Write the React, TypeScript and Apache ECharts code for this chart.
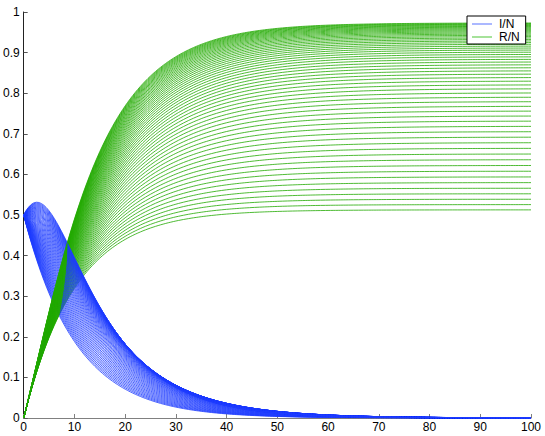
import React, { useEffect, useRef } from "react";
import * as echarts from "echarts";

// Tick labels
const xTicks = [0, 10, 20, 30, 40, 50, 60, 70, 80, 90, 100];
const yTicks = [0, 0.1, 0.2, 0.3, 0.4, 0.5, 0.6, 0.7, 0.8, 0.9, 1];

// Legend entries
const seriesNames = ["I/N", "R/N"];

// Initial state (fractions of N)
const initialInfected = 0.5;
const initialSusceptible = 0.5;
const initialRecovered = 0;

// Recovery rate read from the common initial slope of the R/N curves (~0.05 per unit time at I/N = 0.5)
const recoveryRate = 0.1;

// Contact ratios beta/gamma of the 60 curves, read from the spacing of the R/N plateaus at t = 100
// (plateaus from ~0.512 up to ~0.973)
const contactRatios = [
  0.05, 0.1, 0.15, 0.2, 0.25, 0.3, 0.35, 0.4, 0.45, 0.5,
  0.55, 0.6, 0.65, 0.7, 0.75, 0.8, 0.85, 0.9, 0.95, 1.0,
  1.05, 1.1, 1.15, 1.2, 1.25, 1.3, 1.35, 1.4, 1.45, 1.5,
  1.55, 1.6, 1.65, 1.7, 1.75, 1.8, 1.85, 1.9, 1.95, 2.0,
  2.05, 2.1, 2.15, 2.2, 2.25, 2.3, 2.35, 2.4, 2.45, 2.5,
  2.55, 2.6, 2.65, 2.7, 2.75, 2.8, 2.85, 2.9, 2.95, 3.0,
];

const timeEnd = 100;

const BLUE = "#1e3cff";
const GREEN = "#22aa00";

function simulate(ratio: number) {
  const gamma = recoveryRate;
  const beta = ratio * gamma;
  const dt = 0.05;
  const recordEvery = 10; // record every 0.5 time units
  let S = initialSusceptible;
  let I = initialInfected;
  let R = initialRecovered;
  const iPts: [number, number][] = [[0, I]];
  const rPts: [number, number][] = [[0, R]];
  const steps = Math.round(timeEnd / dt);
  const f = (s: number, i: number) => [-beta * s * i, beta * s * i - gamma * i, gamma * i];
  for (let k = 1; k <= steps; k++) {
    const k1 = f(S, I);
    const k2 = f(S + (dt / 2) * k1[0], I + (dt / 2) * k1[1]);
    const k3 = f(S + (dt / 2) * k2[0], I + (dt / 2) * k2[1]);
    const k4 = f(S + dt * k3[0], I + dt * k3[1]);
    S += (dt / 6) * (k1[0] + 2 * k2[0] + 2 * k3[0] + k4[0]);
    I += (dt / 6) * (k1[1] + 2 * k2[1] + 2 * k3[1] + k4[1]);
    R += (dt / 6) * (k1[2] + 2 * k2[2] + 2 * k3[2] + k4[2]);
    if (k % recordEvery === 0) {
      const t = +(k * dt).toFixed(4);
      iPts.push([t, I]);
      rPts.push([t, R]);
    }
  }
  return { iPts, rPts };
}

export default function App() {
  const ref = useRef<HTMLDivElement>(null);

  useEffect(() => {
    document.body.style.margin = "0";
    if (!ref.current) return;
    const chart = echarts.init(ref.current, undefined, { renderer: "svg" });

    const series: any[] = [];
    contactRatios.forEach((r) => {
      const { iPts, rPts } = simulate(r);
      series.push({
        name: seriesNames[0],
        type: "line",
        data: iPts,
        showSymbol: false,
        symbol: "none",
        silent: true,
        lineStyle: { width: 0.8, color: BLUE },
        itemStyle: { color: BLUE },
      });
      series.push({
        name: seriesNames[1],
        type: "line",
        data: rPts,
        showSymbol: false,
        symbol: "none",
        silent: true,
        lineStyle: { width: 0.8, color: GREEN },
        itemStyle: { color: GREEN },
      });
    });

    chart.setOption({
      animation: false,
      backgroundColor: "#ffffff",
      grid: { left: 19, right: 14, top: 12, bottom: 18, containLabel: false },
      legend: {
        data: [
          { name: seriesNames[0], itemStyle: { color: "#8fa0ff" }, lineStyle: { color: "#8fa0ff" } },
          { name: seriesNames[1], itemStyle: { color: "#88d878" }, lineStyle: { color: "#88d878" } },
        ],
        orient: "vertical",
        left: 467,
        top: 16,
        icon: "rect",
        itemWidth: 20,
        itemHeight: 1.5,
        itemGap: 1,
        padding: [2, 6, 1, 5],
        borderColor: "#000",
        borderWidth: 1,
        backgroundColor: "#fff",
        selectedMode: false,
        textStyle: { fontFamily: "Liberation Sans", fontSize: 12, color: "#000", padding: [0, 0, 0, 2] },
      },
      xAxis: {
        type: "value",
        min: xTicks[0],
        max: xTicks[xTicks.length - 1],
        interval: 10,
        axisLine: { show: true, onZero: false, lineStyle: { color: "#808080", width: 1 } },
        axisTick: { show: true, inside: true, length: 4, lineStyle: { color: "#808080" } },
        axisLabel: {
          margin: 3,
          fontFamily: "Liberation Sans",
          fontSize: 12,
          color: "#000",
          formatter: (v: number) => String(v),
        },
        splitLine: { show: false },
      },
      yAxis: {
        type: "value",
        min: yTicks[0],
        max: yTicks[yTicks.length - 1],
        interval: 0.1,
        axisLine: { show: true, onZero: false, lineStyle: { color: "#222", width: 1 } },
        axisTick: { show: true, inside: true, length: 4, lineStyle: { color: "#555" } },
        axisLabel: {
          margin: 4,
          fontFamily: "Liberation Sans",
          fontSize: 12,
          color: "#000",
          formatter: (v: number) => String(Math.round(v * 10) / 10),
        },
        splitLine: { show: false },
      },
      series,
    });

    return () => chart.dispose();
  }, []);

  return <div ref={ref} style={{ width: 545, height: 436 }} />;
}
